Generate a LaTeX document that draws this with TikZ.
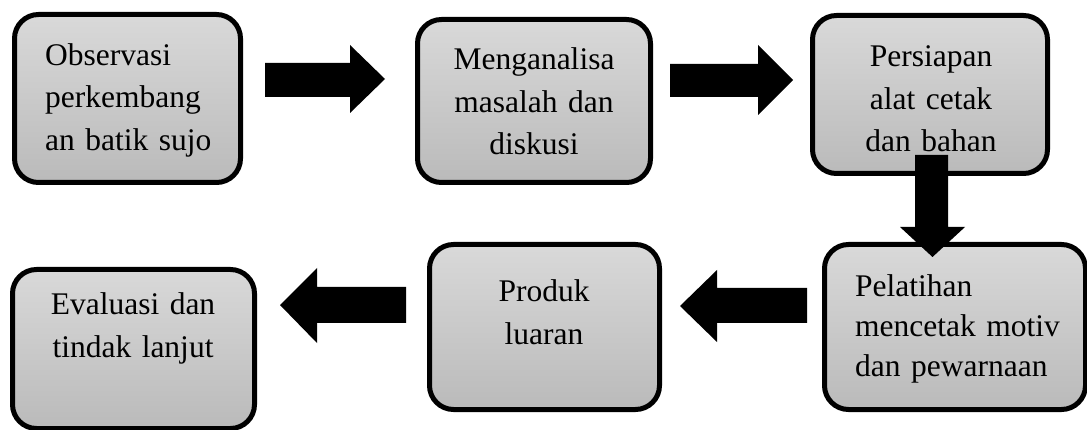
\documentclass[tikz,border=0pt]{standalone}
\usepackage{fontspec}
\setmainfont{Liberation Serif}
\begin{document}
\begin{tikzpicture}[x=1pt,y=-1pt]
\tikzset{
  box/.style={draw=black, line width=5pt, rounded corners=24pt,
    top color=black!15, bottom color=black!27, inner sep=0pt},
  txt/.style={inner sep=0pt, text width=#1, font=\fontsize{31.5}{42.5}\selectfont},
  blockarrow/.style={fill=black, draw=none}
}
\useasboundingbox (0,0) rectangle (1087,430);
% boxes
\node[box, minimum width=226pt, minimum height=168pt] (b1) at (127.5,98.5) {};
\node[box, minimum width=233pt, minimum height=163pt] (b2) at (534,101) {};
\node[box, minimum width=235pt, minimum height=158pt] (b3) at (930,94.5) {};
\node[box, minimum width=261pt, minimum height=165pt] (b4) at (955,327) {};
\node[box, minimum width=230pt, minimum height=165pt] (b5) at (544.5,327) {};
\node[box, minimum width=242pt, minimum height=159pt] (b6) at (133.5,349) {};
% texts
\node[txt=190pt, align=left, anchor=base west] (t1) at (45,65.5) {Observasi\\perkembang\\an batik sujo};
\node[txt=210pt, align=center, anchor=base] (t2) at (534,70) {Menganalisa\\masalah dan\\diskusi};
\node[txt=210pt, align=center, anchor=base] (t3) at (931,67) {Persiapan\\alat cetak\\dan bahan};
\node[txt=230pt, align=left, anchor=base west, font=\fontsize{31.5}{40}\selectfont] (t4) at (855,297) {Pelatihan\\mencetak motiv\\dan pewarnaan};
\node[txt=210pt, align=center, anchor=base] (t5) at (544,302) {Produk\\luaran};
\node[txt=230pt, align=center, anchor=base] (t6) at (133,315) {Evaluasi dan\\tindak lanjut};
% block arrows
\fill[blockarrow] (265,63) -- (350,63) -- (350,45) -- (385,79) -- (350,113) -- (350,97) -- (265,97) -- cycle;
\fill[blockarrow] (670,64) -- (758,64) -- (758,45) -- (793,80) -- (758,115) -- (758,97) -- (670,97) -- cycle;
\fill[blockarrow] (915,155) -- (948,155) -- (948,227) -- (965,227) -- (932.5,257) -- (900,227) -- (915,227) -- cycle;
\fill[blockarrow] (807,288) -- (717,288) -- (717,270) -- (680,306) -- (717,342) -- (717,323) -- (807,323) -- cycle;
\fill[blockarrow] (406,287) -- (317,287) -- (317,268) -- (280,305) -- (317,343) -- (317,323) -- (406,323) -- cycle;
\end{tikzpicture}
\end{document}
